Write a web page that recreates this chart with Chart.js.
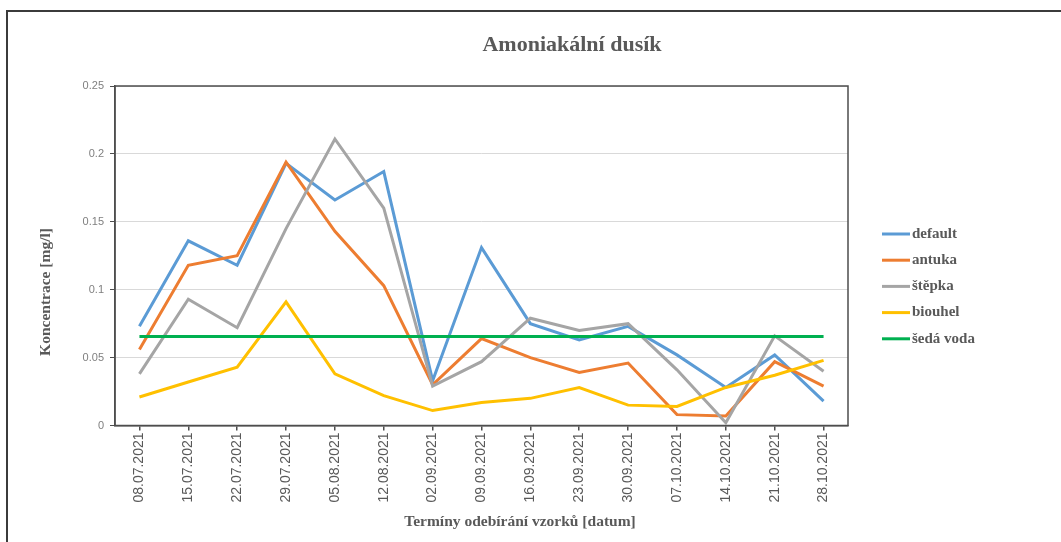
<!DOCTYPE html>
<html lang="cs">
<head>
  <meta charset="UTF-8" />
  <title>Amoniakální dusík</title>
  <script src="https://cdn.jsdelivr.net/npm/chart.js"></script>
  <style>
    body {
      margin: 0;
      background: #fff;
      overflow: hidden;
    }
    .frame {
      position: absolute;
      left: 6px;
      top: 10px;
      right: 0;
      bottom: 0;
      border-left: 2px solid #3b3b3b;
      border-top: 2px solid #3b3b3b;
    }
    #chart {
      position: absolute;
      left: 0;
      top: 0;
    }
  </style>
</head>
<body>
  <div class="frame"></div>
  <canvas id="chart" width="1061" height="542"></canvas>

  <script>
    // data
    const dates = ['08.07.2021', '15.07.2021', '22.07.2021', '29.07.2021', '05.08.2021', '12.08.2021',
      '02.09.2021', '09.09.2021', '16.09.2021', '23.09.2021', '30.09.2021', '07.10.2021',
      '14.10.2021', '21.10.2021', '28.10.2021'];
    const defaultVals = [0.073, 0.136, 0.118, 0.193, 0.166, 0.187, 0.033, 0.131, 0.075, 0.063, 0.073, 0.052, 0.028, 0.052, 0.018];
    const antukaVals = [0.056, 0.118, 0.125, 0.194, 0.143, 0.103, 0.030, 0.064, 0.050, 0.039, 0.046, 0.008, 0.007, 0.047, 0.029];
    const stepkaVals = [0.038, 0.093, 0.072, 0.145, 0.211, 0.160, 0.029, 0.047, 0.079, 0.070, 0.075, 0.041, 0.002, 0.066, 0.040];
    const biouhelVals = [0.021, 0.032, 0.043, 0.091, 0.038, 0.022, 0.011, 0.017, 0.020, 0.028, 0.015, 0.014, 0.028, 0.037, 0.048];
    const sedaVodaVals = [0.0656, 0.0656, 0.0656, 0.0656, 0.0656, 0.0656, 0.0656, 0.0656, 0.0656, 0.0656, 0.0656, 0.0656, 0.0656, 0.0656, 0.0656];
    const yTickLabels = ['0', '0.05', '0.1', '0.15', '0.2', '0.25'];

    const seriesNames = ['default', 'antuka', 'štěpka', 'biouhel', 'šedá voda'];
    const seriesColors = ['#5b9bd5', '#ed7d31', '#a5a5a5', '#ffc000', '#00b050'];
    const seriesData = [defaultVals, antukaVals, stepkaVals, biouhelVals, sedaVodaVals];

    const serif = "'Liberation Serif', 'Times New Roman', serif";
    const textGray = '#595959';
    const axisColor = '#4d4d4d';

    // title, axis titles, legend and the plot box (excel style)
    const excelDecor = {
      id: 'excelDecor',
      beforeDatasetsDraw(chart) {
        const { ctx, chartArea: a } = chart;
        ctx.save();
        ctx.strokeStyle = axisColor;
        ctx.lineWidth = 1.5;
        ctx.strokeRect(a.left, a.top, a.right - a.left, a.bottom - a.top);
        ctx.restore();
      },
      afterDraw(chart) {
        const ctx = chart.ctx;
        ctx.save();
        ctx.fillStyle = textGray;
        ctx.textBaseline = 'middle';
        ctx.textAlign = 'center';

        ctx.font = 'bold 22px ' + serif;
        ctx.fillText('Amoniakální dusík', 572, 45);

        ctx.font = 'bold 15.5px ' + serif;
        ctx.fillText('Termíny odebírání vzorků [datum]', 520, 522);

        ctx.save();
        ctx.translate(46, 292);
        ctx.rotate(-Math.PI / 2);
        ctx.fillText('Koncentrace [mg/l]', 0, 0);
        ctx.restore();

        // legend
        ctx.textAlign = 'left';
        ctx.font = 'bold 15px ' + serif;
        chart.data.datasets.forEach((ds, i) => {
          const y = 234 + i * 26.2;
          ctx.strokeStyle = ds.borderColor;
          ctx.lineWidth = 3;
          ctx.beginPath();
          ctx.moveTo(882, y);
          ctx.lineTo(910, y);
          ctx.stroke();
          ctx.fillStyle = textGray;
          ctx.fillText(ds.label, 912, y);
        });
        ctx.restore();
      }
    };

    new Chart(document.getElementById('chart'), {
      type: 'line',
      data: {
        labels: dates,
        datasets: seriesNames.map((name, i) => ({
          label: name,
          data: seriesData[i],
          borderColor: seriesColors[i],
          backgroundColor: seriesColors[i],
          borderWidth: 3,
          pointRadius: 0,
          tension: 0,
          order: seriesNames.length - i
        }))
      },
      options: {
        responsive: false,
        animation: false,
        devicePixelRatio: 1,
        layout: { padding: { left: 0, top: 86, right: 213, bottom: 0 } },
        plugins: {
          legend: { display: false },
          title: { display: false },
          tooltip: { enabled: false }
        },
        scales: {
          x: {
            offset: true,
            grid: { offset: false, drawOnChartArea: false, tickLength: 5, tickColor: axisColor, lineWidth: 1.5 },
            border: { color: axisColor, width: 1.5 },
            ticks: {
              autoSkip: false,
              minRotation: 90,
              maxRotation: 90,
              padding: 2,
              color: textGray,
              font: { family: "'Liberation Sans', Arial, sans-serif", size: 14 }
            },
            afterFit(scale) { scale.height = 116.5; }
          },
          y: {
            min: 0,
            max: 0.25,
            grid: { color: '#d9d9d9', tickColor: axisColor, tickLength: 5 },
            border: { color: axisColor, width: 1.5 },
            ticks: {
              stepSize: 0.05,
              padding: 6,
              color: '#7f7f7f',
              font: { family: "'Liberation Sans', Arial, sans-serif", size: 11 },
              callback: (v, i) => yTickLabels[i]
            },
            afterFit(scale) { scale.width = 115; }
          }
        }
      },
      plugins: [excelDecor]
    });
  </script>
</body>
</html>
